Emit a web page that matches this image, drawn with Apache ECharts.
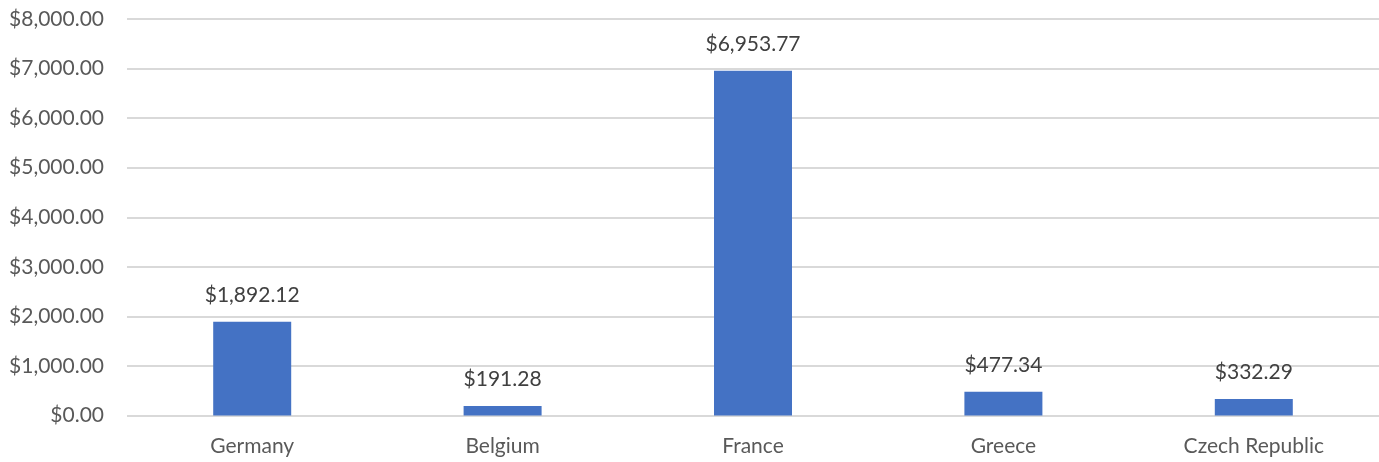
<!DOCTYPE html>
<html>
<head>
<meta charset="utf-8">
<script src="https://cdn.jsdelivr.net/npm/echarts@6/dist/echarts.min.js"></script>
<style>
  html, body { margin: 0; padding: 0; background: #fff; }
  #main { width: 1379px; height: 462px; }
</style>
</head>
<body>
<div id="main"></div>
<script>
  // data
  var countries = ['Germany', 'Belgium', 'France', 'Greece', 'Czech Republic'];
  var amounts = [1892.12, 191.28, 6953.77, 477.34, 332.29];
  var yTicks = [0, 1000, 2000, 3000, 4000, 5000, 6000, 7000, 8000];

  function money(v) {
    return '$' + Number(v).toLocaleString('en-US', { minimumFractionDigits: 2, maximumFractionDigits: 2 });
  }

  var font = 'Lato, "Open Sans", sans-serif';
  var myChart = echarts.init(document.getElementById('main'));
  myChart.setOption({
    animation: false,
    grid: { left: 127, right: -2, top: 19, bottom: 46.5 },
    xAxis: {
      type: 'category',
      data: countries,
      axisLine: { show: false },
      axisTick: { show: false },
      axisLabel: { color: '#595959', fontSize: 21, fontFamily: font, margin: 20 }
    },
    yAxis: {
      type: 'value',
      min: yTicks[0],
      max: yTicks[yTicks.length - 1],
      interval: 1000,
      axisLine: { show: false },
      axisTick: { show: false },
      splitLine: { lineStyle: { color: '#d9d9d9', width: 2 } },
      axisLabel: { color: '#595959', fontSize: 21, fontFamily: font, margin: 23, formatter: money }
    },
    series: [{
      type: 'bar',
      data: amounts,
      barWidth: 78,
      itemStyle: { color: '#4472c4' },
      label: {
        show: true,
        position: 'top',
        distance: 16,
        color: '#404040',
        fontSize: 21,
        fontFamily: font,
        formatter: function (p) { return money(p.value); }
      }
    }]
  });
</script>
</body>
</html>
